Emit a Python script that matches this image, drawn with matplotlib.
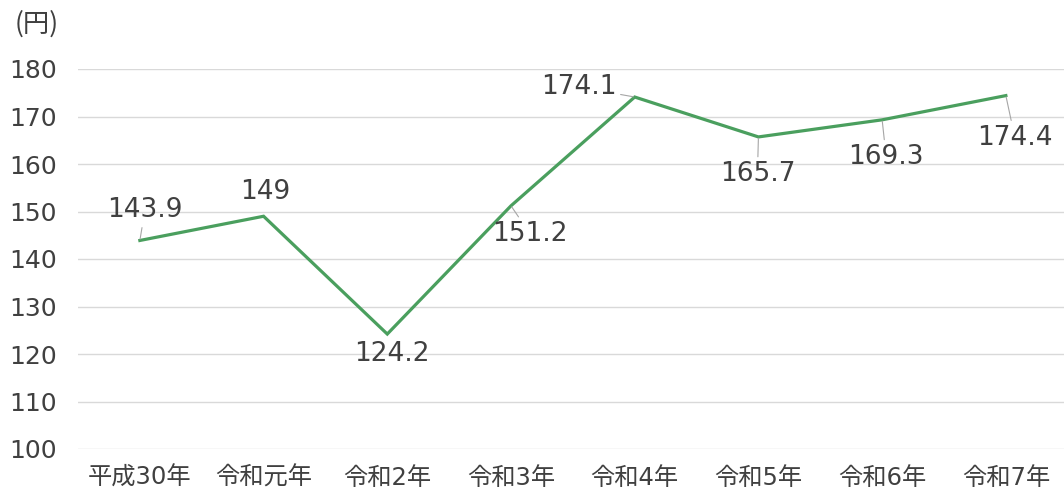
import matplotlib.pyplot as plt

plt.rcParams['font.family'] = ['DejaVu Sans', 'Noto Sans CJK JP']

# data
years = ["平成30年", "令和元年", "令和2年", "令和3年", "令和4年", "令和5年", "令和6年", "令和7年"]
prices = [143.9, 149, 124.2, 151.2, 174.1, 165.7, 169.3, 174.4]
value_labels = ["143.9", "149", "124.2", "151.2", "174.1", "165.7", "169.3", "174.4"]

# label offsets in pixels (dx, dy) and whether a leader line is drawn
label_offsets = [(5, 30), (2, 24), (5, -20), (19, -28), (-56, 10), (-1, -37), (4, -37), (9, -42)]
leaders = [True, False, False, True, True, True, True, True]

fig = plt.figure(figsize=(10.64, 4.92), dpi=100)
ax = fig.add_axes([78 / 1064, 1 - 449 / 492, 1 - 78 / 1064, (449 - 69) / 492])

x = list(range(len(years)))
ax.plot(x, prices, color="#4a9f5e", lw=2.3, solid_joinstyle="miter", zorder=3)

ax.set_ylim(100, 180)
ax.set_xlim(-0.5, 7.47)
ax.set_yticks(range(100, 181, 10))
ax.set_xticks(x)
ax.set_xticklabels(years)
ax.grid(axis="y", color="#d9d9d9", lw=1)
ax.set_axisbelow(True)
for s in ax.spines.values():
    s.set_visible(False)
ax.tick_params(length=0)
ax.tick_params(axis="y", labelsize=18, labelcolor="#404040", pad=15)
ax.tick_params(axis="x", labelsize=17.5, labelcolor="#404040", pad=12)

# data labels
for i in range(len(prices)):
    dx, dy = label_offsets[i]
    props = None
    if leaders[i]:
        props = dict(arrowstyle="-", color="#a6a6a6", lw=0.8, shrinkA=1, shrinkB=1)
    ax.annotate(value_labels[i], (x[i], prices[i]), xytext=(dx, dy),
                textcoords="offset pixels", ha="center", va="center",
                fontsize=19, color="#404040", arrowprops=props, zorder=4)

fig.text(37 / 1064, 1 - 24 / 492, "(円)", ha="center", va="center",
         fontsize=19, color="#404040", family=["Noto Sans CJK JP"])

fig.savefig("out.png", dpi=100)
